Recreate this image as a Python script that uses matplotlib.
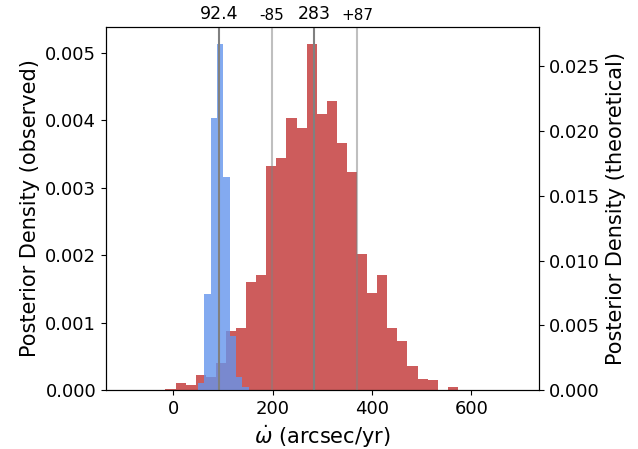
import numpy as np
import matplotlib
matplotlib.use('Agg')
import matplotlib.pyplot as plt

# red histogram (theoretical, right axis)
red_edges = [-15.3, 5.0, 25.3, 45.5, 65.8, 86.1, 106.4, 126.7, 146.9, 167.2,
             187.5, 207.8, 228.1, 248.3, 268.6, 288.9, 309.2, 329.5, 349.7,
             370.0, 390.3, 410.6, 430.9, 451.1, 471.4, 491.7, 512.0, 532.3,
             552.5, 572.8]
red_dens = [0.000077, 0.00052, 0.00036, 0.00116, 0.00103, 0.00206, 0.00455,
            0.00481, 0.00831, 0.00887, 0.01731, 0.01788, 0.02099, 0.02022,
            0.02670, 0.02130, 0.02232, 0.01904, 0.01684, 0.01049, 0.00746,
            0.00887, 0.00481, 0.00378, 0.00185, 0.00083, 0.00075, 0.0,
            0.00025]

# blue histogram (observed, left axis)
blue_edges = [50.3, 63.0, 75.7, 88.3, 101.0, 113.7, 126.4, 139.1, 151.7]
blue_dens = [0.000104, 0.00143, 0.00404, 0.00513, 0.00316, 0.00080,
             0.00020, 0.00004]

obs_med = 92.4
th_med = 283
th_lo = 85
th_hi = 87

fig = plt.figure(figsize=(6.38, 4.49), dpi=100)
ax = fig.add_axes([0.1661, 0.1314, 0.6787, 0.8085])
ax2 = ax.twinx()

ax2.hist(red_edges[:-1], bins=red_edges, weights=red_dens, color='indianred')
ax.hist(blue_edges[:-1], bins=blue_edges, weights=blue_dens,
        color='cornflowerblue', alpha=0.8)

ax.set_zorder(ax2.get_zorder() + 1)
ax.patch.set_visible(False)

ax.axvline(obs_med, color='grey', lw=1.5)
ax.axvline(th_med, color='grey', lw=1.5)
ax.axvline(th_med - th_lo, color='grey', lw=1.5, alpha=0.5)
ax.axvline(th_med + th_hi, color='grey', lw=1.5, alpha=0.5)

ax.set_xlim(-135, 736)
ax.set_xticks([0, 200, 400, 600])

def top_label(x, s, size):
    ax.annotate(s, xy=(x, 1), xycoords=('data', 'axes fraction'),
                xytext=(0, 3), textcoords='offset points',
                ha='center', va='bottom', fontsize=size)

top_label(obs_med, f'{obs_med}', 12.5)
top_label(th_med - th_lo, f'-{th_lo}', 11)
top_label(th_med, f'{th_med}', 12.5)
top_label(th_med + th_hi, f'+{th_hi}', 11)

ax.set_xlabel(r'$\dot{\omega}$ (arcsec/yr)', fontsize=15)
ax.set_ylabel('Posterior Density (observed)', fontsize=15)
ax2.set_ylabel('Posterior Density (theoretical)', fontsize=15)
ax.tick_params(labelsize=13)
ax2.tick_params(labelsize=13)

fig.savefig('out.png', dpi=100)
